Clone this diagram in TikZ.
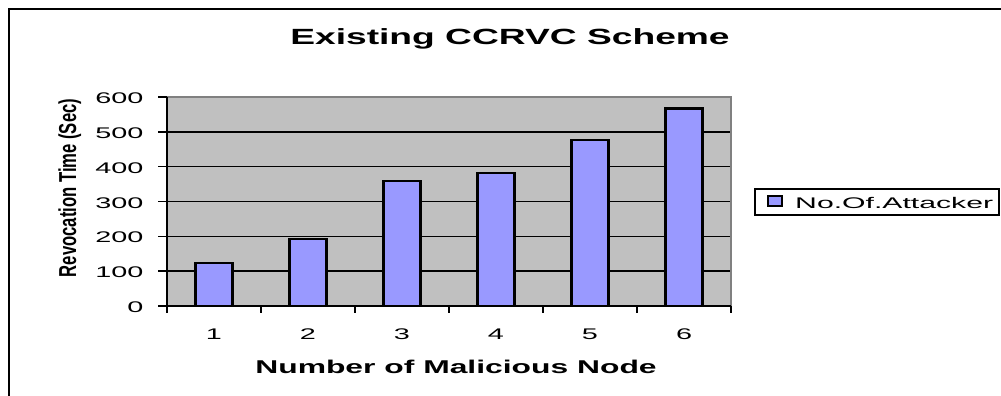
\documentclass[tikz,border=0pt]{standalone}
\usepackage{graphicx}
\usepackage{fontspec}
\setmainfont{Liberation Sans}

% text helpers: size in pt and a horizontal stretch factor
\newcommand\ticktxt[1]{\scalebox{1.87}[1]{\fontsize{15.4}{15.4}\selectfont #1}}
\newcommand\legtxt[1]{\scalebox{1.96}[1]{\fontsize{15.4}{15.4}\selectfont #1}}
\newcommand\titletxt[1]{\scalebox{1.69}[1]{\fontsize{22}{22}\selectfont\bfseries #1}}
\newcommand\xtitletxt[1]{\scalebox{1.72}[1]{\fontsize{18.5}{18.5}\selectfont\bfseries #1}}
\newcommand\ytitletxt[1]{\scalebox{0.68}[1]{\fontsize{24.5}{24.5}\selectfont\bfseries #1}}

\definecolor{plotgray}{HTML}{C0C0C0}
\definecolor{edgegray}{HTML}{808080}
\definecolor{barblue}{HTML}{9999FF}

\tikzset{
  frame/.style={draw=black, line width=2pt},
  gridline/.style={draw=black, line width=1.6pt},
  axisline/.style={draw=black, line width=1.8pt},
  plotedge/.style={draw=edgegray, line width=2pt},
  barbox/.style={fill=barblue, draw=black, line width=2.2pt},
  tickmark/.style={draw=black, line width=1.5pt},
  legendbox/.style={draw=black, line width=1.4pt, fill=white},
}

\begin{document}
\begin{tikzpicture}[x=1pt, y=-1pt]
  \useasboundingbox (0,0) rectangle (1001,396);
  \clip (0,0) rectangle (1001,396);

  % chart area frame (runs past the right and bottom edges)
  \draw[frame] (9,9) rectangle (1030,430);

  % title
  \node[anchor=base, inner sep=0] (title) at (510,45) {\titletxt{Existing CCRVC Scheme}};

  % plot area
  \fill[plotgray] (167,97) rectangle (731,306);
  \foreach \v in {1,...,5}{
    \pgfmathsetmacro\yy{306-34.83*\v}
    \draw[gridline] (167,\yy) -- (731,\yy);
  }
  \draw[plotedge] (167,97) -- (731,97) -- (731,306);

  % bars
  \foreach \v [count=\i] in {123,193,358,383,477,567}{
    \pgfmathsetmacro\xc{167+94*(\i-0.5)}
    \pgfmathsetmacro\yt{306-0.3483*\v}
    \draw[barbox] (\xc-18.5,306) rectangle (\xc+18.5,\yt);
    \node[anchor=base, inner sep=0] (xl\i) at (\xc,339) {\ticktxt{\i}};
  }

  % axes and tick marks
  \draw[axisline] (167,97) -- (167,306) -- (731,306);
  \foreach \v in {0,...,6}{
    \pgfmathsetmacro\yy{306-34.83*\v}
    \pgfmathtruncatemacro\lab{100*\v}
    \draw[tickmark] (158,\yy) -- (167,\yy);
    \node[anchor=base east, inner sep=0] (yl\v) at (143.5,\yy+6.5) {\ticktxt{\lab}};
  }
  \foreach \i in {0,...,6}{
    \draw[tickmark] (167+94*\i,306) -- (167+94*\i,313);
  }

  % axis titles
  \node[anchor=base, inner sep=0] (xtitle) at (456,373.5) {\xtitletxt{Number of Malicious Node}};
  \node[anchor=base, rotate=90, inner sep=0] (ytitle) at (76,188) {\ytitletxt{Revocation Time (Sec)}};

  % legend
  \draw[legendbox] (755,189) rectangle (999,215);
  \draw[fill=barblue, draw=black, line width=1.3pt] (768,196) rectangle (782,206);
  \node[anchor=base west, inner sep=0] (legend) at (795,208.5) {\legtxt{No.Of.Attacker}};
\end{tikzpicture}
\end{document}
